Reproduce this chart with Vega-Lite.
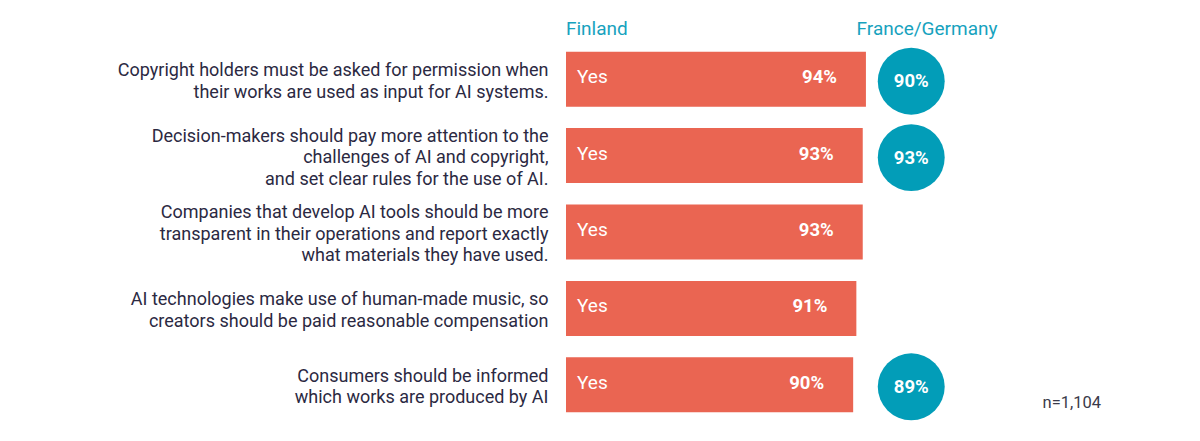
{
  "$schema": "https://vega.github.io/schema/vega-lite/v6.json",
  "width": 634,
  "height": 382,
  "autosize": {"type": "none"},
  "padding": {"left": 566, "top": 41, "right": 0, "bottom": 18},
  "background": "white",
  "config": {"view": {"stroke": null}, "font": "Roboto"},
  "data": {
    "values": [
      {"statement": "Copyright holders must be asked for permission when|their works are used as input for AI systems.", "answer": "Yes", "finland": 94, "fg": 90},
      {"statement": "Decision-makers should pay more attention to the|challenges of AI and copyright,|and set clear rules for the use of AI.", "answer": "Yes", "finland": 93, "fg": 93},
      {"statement": "Companies that develop AI tools should be more|transparent in their operations and report exactly|what materials they have used.", "answer": "Yes", "finland": 93, "fg": null},
      {"statement": "AI technologies make use of human-made music, so|creators should be paid reasonable compensation", "answer": "Yes", "finland": 91, "fg": null},
      {"statement": "Consumers should be informed|which works are produced by AI", "answer": "Yes", "finland": 90, "fg": 89}
    ]
  },
  "encoding": {
    "y": {
      "field": "statement",
      "type": "nominal",
      "sort": null,
      "scale": {"paddingInner": 0.28, "paddingOuter": 0.14},
      "axis": {
        "title": null,
        "ticks": false,
        "domain": false,
        "labelExpr": "split(datum.label, '|')",
        "labelAlign": "right",
        "labelBaseline": "middle",
        "labelFontSize": 18,
        "labelLineHeight": 21.5,
        "labelColor": "#2b2942",
        "labelPadding": 18,
        "labelLimit": 600,
        "labelOffset": {"condition": {"test": "length(split(datum.label, '|')) == 3", "value": -19}, "value": -8}
      }
    }
  },
  "layer": [
    {
      "mark": {"type": "bar", "color": "#ea6552"},
      "encoding": {
        "x": {
          "field": "finland",
          "type": "quantitative",
          "scale": {"domain": [0, 198.7], "nice": false, "zero": true},
          "axis": {
            "orient": "top",
            "title": null,
            "grid": false,
            "domain": false,
            "ticks": false,
            "values": [9.5, 113],
            "labelExpr": "datum.value < 50 ? 'Finland' : 'France/Germany'",
            "labelAlign": "center",
            "labelFontSize": 19,
            "labelColor": "#17a2be",
            "labelPadding": 3,
            "labelFlush": false,
            "labelOverlap": false
          }
        }
      }
    },
    {
      "mark": {"type": "text", "align": "left", "baseline": "middle", "dx": 11, "dy": -2, "color": "white", "fontSize": 19},
      "encoding": {
        "x": {"datum": 0, "type": "quantitative"},
        "text": {"field": "answer"}
      }
    },
    {
      "transform": [{"calculate": "datum.finland + '%'", "as": "flabel"}],
      "mark": {"type": "text", "align": "right", "baseline": "middle", "dx": -29, "dy": -2, "color": "white", "fontSize": 18.5, "fontWeight": "bold"},
      "encoding": {
        "x": {"field": "finland", "type": "quantitative"},
        "text": {"field": "flabel"}
      }
    },
    {
      "transform": [{"filter": "datum.fg != null"}],
      "mark": {"type": "circle", "size": 4480, "opacity": 1, "color": "#029db8", "yOffset": 2},
      "encoding": {
        "x": {"datum": 108.2, "type": "quantitative"}
      }
    },
    {
      "transform": [{"filter": "datum.fg != null"}, {"calculate": "datum.fg + '%'", "as": "glabel"}],
      "mark": {"type": "text", "align": "center", "baseline": "middle", "color": "white", "fontSize": 18.5, "fontWeight": "bold", "yOffset": 2},
      "encoding": {
        "x": {"datum": 108.2, "type": "quantitative"},
        "text": {"field": "glabel"}
      }
    },
    {
      "data": {"values": [{"note": "n=1,104"}]},
      "mark": {"type": "text", "align": "right", "baseline": "middle", "dy": 18, "color": "#3a3a4a", "fontSize": 16.5},
      "encoding": {
        "x": {"datum": 167.7, "type": "quantitative"},
        "y": {"datum": "Consumers should be informed|which works are produced by AI", "type": "nominal"},
        "text": {"field": "note"}
      }
    }
  ]
}
